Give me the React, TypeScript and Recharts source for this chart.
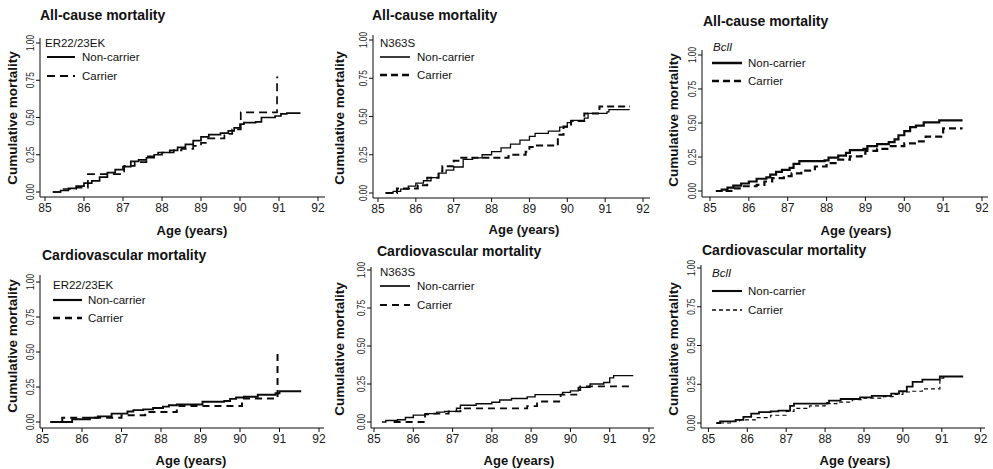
import React from 'react';
import { LineChart, Line, XAxis, YAxis } from 'recharts';

type Pt = [number, number];

const ageTicks = [85, 86, 87, 88, 89, 90, 91, 92];
const mortTicks = [0, 0.25, 0.5, 0.75, 1];
const seriesNames = ['Non-carrier', 'Carrier'];

// all-cause mortality, [age, cumulative mortality]
const acErNon: Pt[] = [
  [85.2, 0], [85.4, 0.01], [85.6, 0.025], [85.8, 0.04], [86.0, 0.06], [86.2, 0.075], [86.4, 0.1],
  [86.6, 0.13], [86.8, 0.15], [87.0, 0.17], [87.2, 0.205], [87.4, 0.215], [87.6, 0.23], [87.8, 0.25],
  [88.0, 0.265], [88.2, 0.28], [88.4, 0.3], [88.6, 0.32], [88.8, 0.345], [89.0, 0.37], [89.2, 0.385],
  [89.5, 0.395], [89.7, 0.41], [89.85, 0.43], [90.0, 0.455], [90.1, 0.465], [90.4, 0.47], [90.55, 0.5],
  [90.9, 0.51], [91.05, 0.525], [91.2, 0.53], [91.55, 0.53],
];
const acErCar: Pt[] = [
  [85.2, 0], [85.45, 0.02], [85.8, 0.03], [86.1, 0.12], [87.03, 0.175], [87.3, 0.2], [87.6, 0.24],
  [87.9, 0.265], [88.3, 0.28], [88.5, 0.29], [88.8, 0.31], [89.0, 0.33], [89.15, 0.36], [89.6, 0.39],
  [89.8, 0.42], [90.02, 0.535], [90.95, 0.77], [90.98, 0.77],
];
const acNsNon: Pt[] = [
  [85.2, 0], [85.4, 0.01], [85.6, 0.025], [85.8, 0.045], [86.0, 0.065], [86.2, 0.08], [86.4, 0.1],
  [86.6, 0.13], [86.8, 0.15], [87.0, 0.17], [87.25, 0.22], [87.5, 0.23], [87.75, 0.25], [88.0, 0.27],
  [88.25, 0.295], [88.5, 0.32], [88.75, 0.345], [89.0, 0.37], [89.15, 0.39], [89.5, 0.405], [89.8, 0.43],
  [90.0, 0.46], [90.1, 0.475], [90.45, 0.49], [90.55, 0.52], [91.05, 0.53], [91.1, 0.545], [91.65, 0.545],
];
const acNsCar: Pt[] = [
  [85.2, 0], [85.5, 0.03], [86.05, 0.05], [86.3, 0.1], [86.6, 0.14], [86.7, 0.175], [87.0, 0.21],
  [87.2, 0.23], [88.45, 0.25], [88.9, 0.27], [89.0, 0.3], [89.2, 0.31], [89.75, 0.38], [89.9, 0.435],
  [90.1, 0.47], [90.45, 0.52], [90.85, 0.565], [91.65, 0.565],
];
const acBcNon: Pt[] = [
  [85.15, 0], [85.3, 0.01], [85.45, 0.025], [85.6, 0.04], [85.8, 0.055], [86.0, 0.07], [86.2, 0.09],
  [86.45, 0.1], [86.55, 0.12], [86.7, 0.14], [86.85, 0.155], [87.05, 0.17], [87.15, 0.2], [87.3, 0.22],
  [87.95, 0.225], [88.05, 0.245], [88.3, 0.26], [88.5, 0.28], [88.6, 0.3], [88.95, 0.31], [89.05, 0.33],
  [89.3, 0.345], [89.6, 0.36], [89.75, 0.38], [89.85, 0.41], [90.0, 0.44], [90.15, 0.47], [90.3, 0.48],
  [90.5, 0.505], [90.9, 0.52], [91.5, 0.52],
];
const acBcCar: Pt[] = [
  [85.4, 0], [85.55, 0.02], [85.8, 0.035], [86.2, 0.045], [86.4, 0.07], [86.6, 0.095], [86.9, 0.11],
  [87.1, 0.13], [87.35, 0.15], [87.7, 0.18], [88.0, 0.205], [88.3, 0.23], [88.6, 0.255], [88.9, 0.275],
  [89.0, 0.295], [89.3, 0.31], [89.6, 0.33], [90.0, 0.35], [90.3, 0.365], [90.5, 0.385], [90.55, 0.4],
  [90.95, 0.41], [91.0, 0.46], [91.5, 0.46],
];

// cardiovascular mortality
const cvErNon: Pt[] = [
  [85.2, 0], [85.75, 0.02], [86.2, 0.03], [86.4, 0.04], [86.75, 0.06], [87.15, 0.075], [87.3, 0.085],
  [87.55, 0.09], [87.8, 0.1], [88.05, 0.11], [88.2, 0.12], [88.4, 0.125], [89.05, 0.145], [89.6, 0.15],
  [89.75, 0.165], [89.9, 0.175], [90.1, 0.18], [90.45, 0.195], [90.9, 0.205], [91.0, 0.22], [91.55, 0.22],
];
const cvErCar: Pt[] = [
  [85.2, 0], [85.5, 0.03], [87.0, 0.048], [87.6, 0.071], [88.4, 0.114], [90.05, 0.167], [90.95, 0.51],
  [90.98, 0.51],
];
const cvNsNon: Pt[] = [
  [85.2, 0], [85.3, 0.01], [85.6, 0.015], [85.8, 0.03], [86.0, 0.045], [86.3, 0.055], [86.6, 0.065],
  [86.8, 0.07], [87.1, 0.09], [87.2, 0.11], [87.6, 0.12], [88.0, 0.13], [88.2, 0.145], [88.5, 0.155],
  [88.9, 0.165], [89.1, 0.18], [89.8, 0.195], [90.0, 0.205], [90.2, 0.228], [90.5, 0.25], [90.85, 0.26],
  [91.0, 0.29], [91.1, 0.305], [91.6, 0.305],
];
const cvNsCar: Pt[] = [
  [85.5, 0], [86.3, 0.05], [86.5, 0.055], [86.9, 0.07], [87.2, 0.09], [88.9, 0.105], [89.15, 0.135],
  [89.75, 0.18], [90.15, 0.21], [90.25, 0.235], [91.5, 0.235],
];
const cvBcNon: Pt[] = [
  [85.2, 0], [85.3, 0.01], [85.7, 0.02], [85.9, 0.04], [86.1, 0.06], [86.3, 0.07], [86.6, 0.075],
  [86.8, 0.08], [87.1, 0.11], [87.2, 0.125], [88.05, 0.13], [88.1, 0.145], [88.4, 0.155], [88.9, 0.165],
  [89.2, 0.175], [89.7, 0.19], [89.9, 0.205], [90.1, 0.235], [90.25, 0.265], [90.5, 0.28], [90.95, 0.3],
  [91.55, 0.3],
];
const cvBcCar: Pt[] = [
  [85.3, 0], [85.6, 0.01], [85.8, 0.02], [86.2, 0.035], [86.6, 0.05], [87.0, 0.075], [87.2, 0.095],
  [87.6, 0.11], [88.0, 0.125], [88.3, 0.135], [88.7, 0.15], [89.0, 0.16], [89.5, 0.17], [89.8, 0.185],
  [90.0, 0.2], [90.25, 0.205], [90.5, 0.22], [90.95, 0.29], [91.05, 0.3], [91.5, 0.3],
];

const FONT = 'Liberation Sans, Arial, sans-serif';
const INK = '#0a0a0a';

const toRows = (pts: Pt[]) => pts.map(([age, cum]) => ({ age, cum }));

// geometry: x85/x92 and y0/y1 are tick pixel positions, l/r/t/b the axis line extents
const panels = [
  {
    title: 'All-cause mortality', gene: 'ER22/23EK', italic: false, non: acErNon, car: acErCar,
    x85: 45, x92: 318, l: 40, r: 325, y0: 192, y1: 43, t: 38, b: 197,
    tx: 40, ty: 15, xl: [192, 230], yl: [12, 118],
    leg: { gx: 45, gy: 43, lx0: 47, lx1: 75, ny: 57, cy: 76, tx: 82 },
    nonW: 1.7, carW: 1.7, dash: '8 5',
  },
  {
    title: 'All-cause mortality', gene: 'N363S', italic: false, non: acNsNon, car: acNsCar,
    x85: 378, x92: 643, l: 373, r: 650, y0: 193, y1: 40, t: 35, b: 198,
    tx: 372, ty: 15, xl: [524, 229], yl: [339, 118],
    leg: { gx: 380, gy: 43, lx0: 380, lx1: 410, ny: 57, cy: 75, tx: 417 },
    nonW: 1.3, carW: 2, dash: '7 4',
  },
  {
    title: 'All-cause mortality', gene: 'BclI', italic: true, non: acBcNon, car: acBcCar,
    x85: 710, x92: 982, l: 702, r: 988, y0: 191, y1: 55, t: 50, b: 197,
    tx: 703, ty: 21, xl: [856, 230], yl: [673, 120],
    leg: { gx: 713, gy: 47, lx0: 712, lx1: 742, ny: 63, cy: 81, tx: 748 },
    nonW: 2.2, carW: 2.2, dash: '7 4',
  },
  {
    title: 'Cardiovascular mortality', gene: 'ER22/23EK', italic: false, non: cvErNon, car: cvErCar,
    x85: 42.5, x92: 319, l: 40, r: 324, y0: 422, y1: 282, t: 275, b: 428,
    tx: 42, ty: 255, xl: [191, 460], yl: [12, 346],
    leg: { gx: 53, gy: 285, lx0: 53, lx1: 82, ny: 300, cy: 318, tx: 88 },
    nonW: 1.9, carW: 2, dash: '7 5',
  },
  {
    title: 'Cardiovascular mortality', gene: 'N363S', italic: false, non: cvNsNon, car: cvNsCar,
    x85: 374, x92: 649, l: 371, r: 654, y0: 422, y1: 270, t: 267, b: 428,
    tx: 377, ty: 251, xl: [519, 460], yl: [339, 349],
    leg: { gx: 380, gy: 272, lx0: 380, lx1: 410, ny: 286, cy: 305, tx: 417 },
    nonW: 1.4, carW: 1.8, dash: '7 5',
  },
  {
    title: 'Cardiovascular mortality', gene: 'BclI', italic: true, non: cvBcNon, car: cvBcCar,
    x85: 708.4, x92: 980.7, l: 701, r: 985, y0: 423, y1: 268, t: 265, b: 428,
    tx: 702, ty: 250, xl: [855, 460], yl: [673, 349],
    leg: { gx: 712, gy: 273, lx0: 712, lx1: 742, ny: 291, cy: 310, tx: 748 },
    nonW: 1.8, carW: 1.2, dash: '4 3',
  },
];

const YTick = (props: any) => {
  const { x, y, payload } = props;
  return (
    <text
      x={x}
      y={y}
      transform={`rotate(-90 ${x} ${y})`}
      textAnchor="middle"
      fontSize={10.5}
      textLength={16}
      lengthAdjust="spacingAndGlyphs"
      fill="#222"
      fontFamily={FONT}
    >
      {Number(payload.value).toFixed(2)}
    </text>
  );
};

const Panel = ({ p }: { p: (typeof panels)[number] }) => {
  const ppy = (p.x92 - p.x85) / 7;
  const ppu = p.y0 - p.y1;
  const xDomain = [85 + (p.l - p.x85) / ppy, 85 + (p.r - p.x85) / ppy];
  const yDomain = [(p.y0 - p.b) / ppu, (p.y0 - p.t) / ppu];
  const left = p.l - 40;
  const top = p.t - 10;
  const width = p.r - p.l + 50;
  const height = p.b - p.t + 40;

  return (
    <div style={{ position: 'absolute', left, top }}>
      <LineChart width={width} height={height} margin={{ top: 10, right: 10, left: 10, bottom: 5 }}>
        <XAxis
          type="number"
          dataKey="age"
          domain={xDomain}
          allowDataOverflow
          ticks={ageTicks}
          interval={0}
          height={25}
          tickSize={4}
          stroke={INK}
          tick={{ fontSize: 12, fill: '#1a1a1a', fontFamily: FONT }}
        />
        <YAxis
          type="number"
          dataKey="cum"
          domain={yDomain}
          allowDataOverflow
          ticks={mortTicks}
          interval={0}
          width={30}
          tickSize={4}
          stroke={INK}
          tick={<YTick />}
        />
        <Line
          data={toRows(p.non)}
          dataKey="cum"
          name={seriesNames[0]}
          type="stepAfter"
          stroke={INK}
          strokeWidth={p.nonW}
          dot={false}
          activeDot={false}
          isAnimationActive={false}
        />
        <Line
          data={toRows(p.car)}
          dataKey="cum"
          name={seriesNames[1]}
          type="stepAfter"
          stroke={INK}
          strokeWidth={p.carW}
          strokeDasharray={p.dash}
          dot={false}
          activeDot={false}
          isAnimationActive={false}
        />
      </LineChart>
    </div>
  );
};

export default function App() {
  return (
    <div style={{ position: 'absolute', left: 0, top: 0, width: 993, height: 469, background: '#fff', overflow: 'hidden' }}>
      {panels.map((p, i) => (
        <Panel key={i} p={p} />
      ))}
      <svg width={993} height={469} style={{ position: 'absolute', left: 0, top: 0, pointerEvents: 'none' }}>
        {panels.map((p, i) => (
          <g key={i} fontFamily={FONT} fill="#111">
            <text x={p.tx} y={p.ty} dominantBaseline="central" fontSize={14} fontWeight="bold">
              {p.title}
            </text>
            <text x={p.xl[0]} y={p.xl[1]} dominantBaseline="central" textAnchor="middle" fontSize={13} fontWeight="bold">
              Age (years)
            </text>
            <text
              x={p.yl[0]}
              y={p.yl[1]}
              transform={`rotate(-90 ${p.yl[0]} ${p.yl[1]})`}
              dominantBaseline="central"
              textAnchor="middle"
              fontSize={13.5}
              fontWeight="bold"
            >
              Cumulative mortality
            </text>
            <text
              x={p.leg.gx}
              y={p.leg.gy}
              dominantBaseline="central"
              fontSize={11.5}
              fontStyle={p.italic ? 'italic' : 'normal'}
            >
              {p.gene}
            </text>
            <line x1={p.leg.lx0} x2={p.leg.lx1} y1={p.leg.ny} y2={p.leg.ny} stroke={INK} strokeWidth={p.nonW + 0.3} />
            <text x={p.leg.tx} y={p.leg.ny} dominantBaseline="central" fontSize={11.5}>
              {seriesNames[0]}
            </text>
            <line
              x1={p.leg.lx0}
              x2={p.leg.lx1}
              y1={p.leg.cy}
              y2={p.leg.cy}
              stroke={INK}
              strokeWidth={p.carW + 0.3}
              strokeDasharray={p.dash}
            />
            <text x={p.leg.tx} y={p.leg.cy} dominantBaseline="central" fontSize={11.5}>
              {seriesNames[1]}
            </text>
          </g>
        ))}
      </svg>
    </div>
  );
}
